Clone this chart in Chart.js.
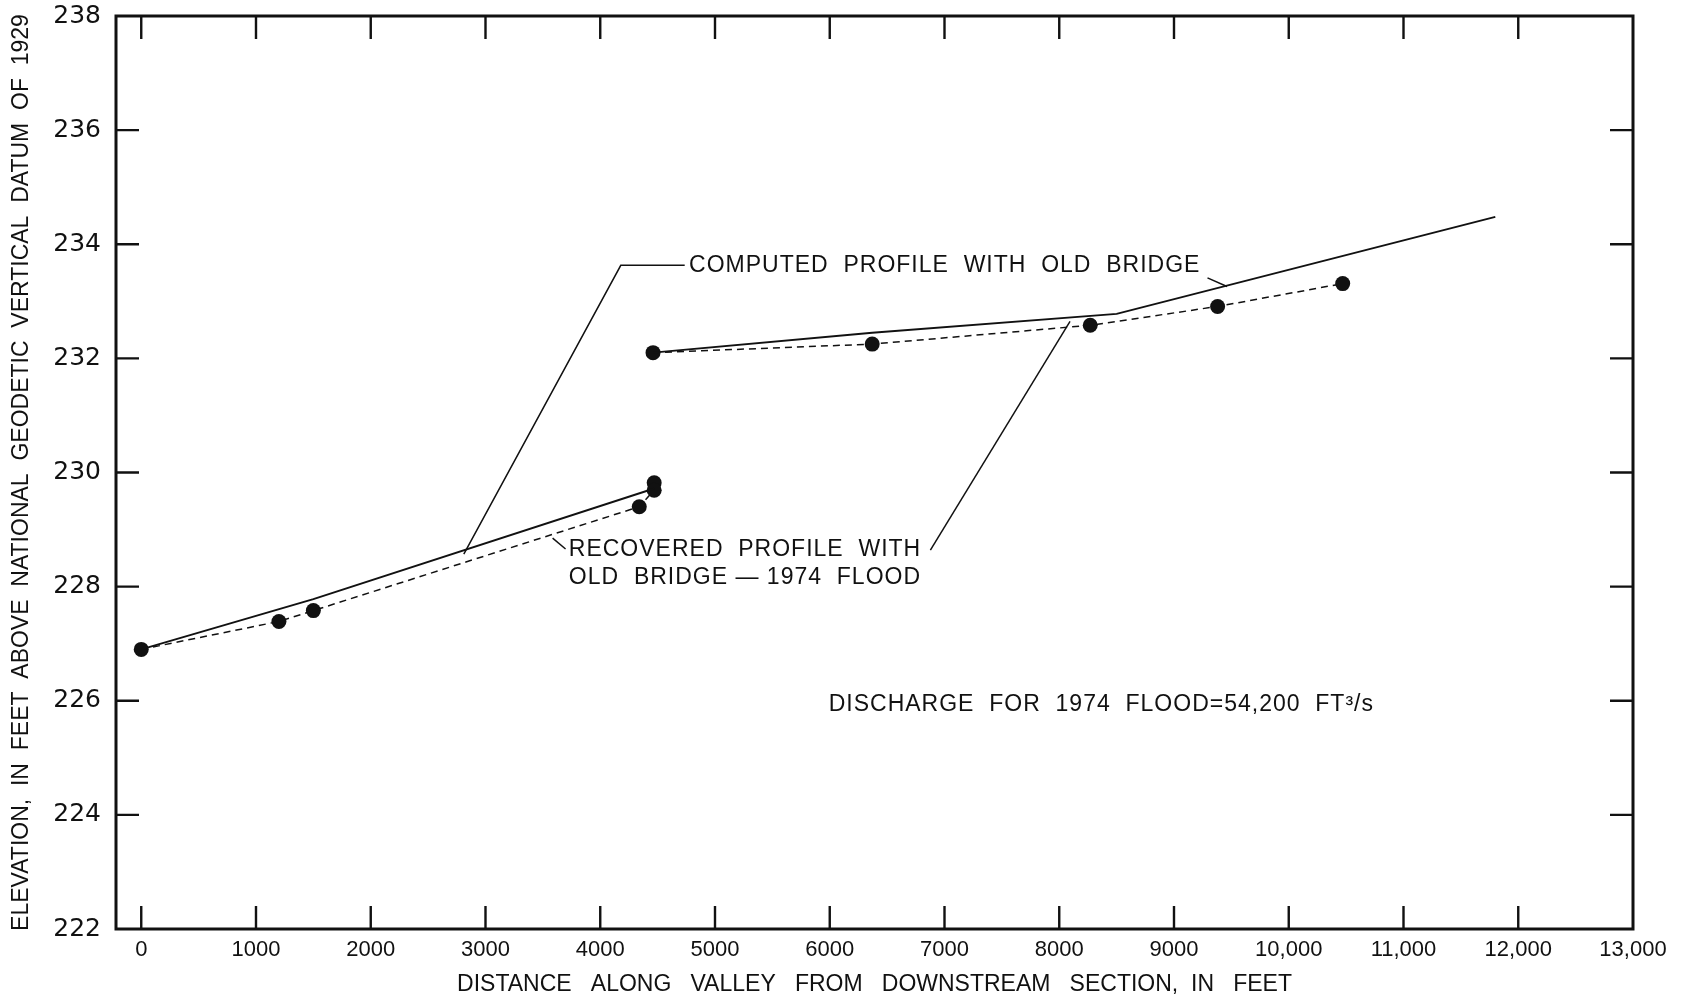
<!DOCTYPE html>
<html>
<head>
<meta charset="utf-8">
<script src="https://cdn.jsdelivr.net/npm/chart.js@4"></script>
<style>
  html, body { margin: 0; padding: 0; background: #fff; }
  #wrap { width: 1698px; height: 1002px; position: relative; }
</style>
</head>
<body>
<div id="wrap"><canvas id="chart"></canvas></div>
<script>
'use strict';

// Water-surface profiles, 1974 flood — distance (ft) vs elevation (ft NGVD 1929)

const X_TICKS = [0, 1000, 2000, 3000, 4000, 5000, 6000, 7000, 8000, 9000, 10000, 11000, 12000, 13000];
const X_LABELS = ['0', '1000', '2000', '3000', '4000', '5000', '6000', '7000', '8000', '9000', '10,000', '11,000', '12,000', '13,000'];
const Y_TICKS = [222, 224, 226, 228, 230, 232, 234, 236, 238];

// computed profile with old bridge (solid), two reaches
const COMPUTED_LOW_X = [0, 1500, 4470];
const COMPUTED_LOW_Y = [226.9, 227.78, 229.72];
const COMPUTED_UP_X = [4460, 6370, 8500, 11800];
const COMPUTED_UP_Y = [232.1, 232.45, 232.78, 234.48];

// recovered profile (high-water marks), dashed
const RECOVERED_LOW_X = [0, 1200, 1500, 4340, 4470];
const RECOVERED_LOW_Y = [226.9, 227.39, 227.58, 229.4, 229.69];
const RECOVERED_UP_X = [4460, 6370, 8270, 9380, 10470];
const RECOVERED_UP_Y = [232.1, 232.25, 232.58, 232.91, 233.31];
const EXTRA_MARK_X = [4470];
const EXTRA_MARK_Y = [229.82];

// leader lines for the labels (data coordinates)
const LEADER_COMPUTED_X = [2811, 4179, 4736];
const LEADER_COMPUTED_Y = [228.57, 233.63, 233.63];
const LEADER_COMPUTED_END_X = [9292, 9462];
const LEADER_COMPUTED_END_Y = [233.41, 233.26];
const LEADER_RECOVERED_X = [6877, 8094];
const LEADER_RECOVERED_Y = [228.64, 232.65];
const LEADER_RECOVERED_START_X = [3585, 3698];
const LEADER_RECOVERED_START_Y = [228.85, 228.66];

const NOTES = [
  { x: 4774, y: 233.62, text: 'COMPUTED  PROFILE  WITH  OLD  BRIDGE' },
  { x: 3726, y: 228.64, text: 'RECOVERED  PROFILE  WITH' },
  { x: 3726, y: 228.15, text: 'OLD  BRIDGE — 1974  FLOOD' },
  { x: 5991, y: 225.93, text: 'DISCHARGE  FOR  1974  FLOOD=54,200  FT³/s' },
];

const FONT = '"Liberation Sans", Arial, sans-serif';
const INK = '#111';

function pts(xs, ys) {
  return xs.map((x, i) => ({ x, y: ys[i] }));
}

function solid(xs, ys, width) {
  return {
    data: pts(xs, ys), showLine: true, borderColor: INK, borderWidth: width || 1.9,
    pointRadius: 0, fill: false, tension: 0,
  };
}

function dashed(xs, ys) {
  return {
    data: pts(xs, ys), showLine: true, borderColor: INK, borderWidth: 1.5,
    borderDash: [7, 5], pointRadius: 7.5, pointBackgroundColor: INK,
    pointBorderColor: INK, pointBorderWidth: 0, fill: false, tension: 0,
  };
}

// frame with inward ticks on all four sides, plus the notes
const framePlugin = {
  id: 'frame',
  afterDatasetsDraw(chart) {
    const { ctx, chartArea: a, scales } = chart;
    const xs = scales.x, ys = scales.y;
    ctx.save();
    ctx.strokeStyle = INK;
    ctx.lineWidth = 3;
    ctx.strokeRect(a.left, a.top, a.right - a.left, a.bottom - a.top);
    ctx.lineWidth = 2.4;
    const tl = 23;
    X_TICKS.forEach(v => {
      const px = xs.getPixelForValue(v);
      if (px >= a.right - 1) return;
      ctx.beginPath();
      ctx.moveTo(px, a.bottom); ctx.lineTo(px, a.bottom - tl);
      ctx.moveTo(px, a.top); ctx.lineTo(px, a.top + tl);
      ctx.stroke();
    });
    Y_TICKS.forEach(v => {
      const py = ys.getPixelForValue(v);
      if (py <= a.top + 1 || py >= a.bottom - 1) return;
      ctx.beginPath();
      ctx.moveTo(a.left, py); ctx.lineTo(a.left + tl, py);
      ctx.moveTo(a.right, py); ctx.lineTo(a.right - tl, py);
      ctx.stroke();
    });

    ctx.fillStyle = INK;
    ctx.font = '23px ' + FONT;
    ctx.textAlign = 'left';
    ctx.textBaseline = 'middle';
    ctx.letterSpacing = '1px';
    NOTES.forEach(n => {
      ctx.fillText(n.text, xs.getPixelForValue(n.x), ys.getPixelForValue(n.y));
    });
    ctx.restore();
  },
};

const ctx = document.getElementById('chart').getContext('2d');
new Chart(ctx, {
  type: 'scatter',
  data: {
    datasets: [
      solid(COMPUTED_LOW_X, COMPUTED_LOW_Y),
      solid(COMPUTED_UP_X, COMPUTED_UP_Y),
      dashed(RECOVERED_LOW_X, RECOVERED_LOW_Y),
      dashed(RECOVERED_UP_X, RECOVERED_UP_Y),
      { data: pts(EXTRA_MARK_X, EXTRA_MARK_Y), showLine: false, pointRadius: 7.5,
        pointBackgroundColor: INK, pointBorderWidth: 0 },
      solid(LEADER_COMPUTED_X, LEADER_COMPUTED_Y, 1.5),
      solid(LEADER_COMPUTED_END_X, LEADER_COMPUTED_END_Y, 1.5),
      solid(LEADER_RECOVERED_X, LEADER_RECOVERED_Y, 1.5),
      solid(LEADER_RECOVERED_START_X, LEADER_RECOVERED_START_Y, 1.5),
    ],
  },
  options: {
    responsive: true,
    maintainAspectRatio: false,
    animation: false,
    layout: { padding: { left: 0, top: 16, right: 65, bottom: 0 } },
    plugins: { legend: { display: false }, tooltip: { enabled: false } },
    scales: {
      x: {
        type: 'linear',
        min: -220,
        max: 13000,
        afterBuildTicks: (s) => { s.ticks = X_TICKS.map(v => ({ value: v })); },
        afterFit: (s) => { s.height = 73; s.paddingLeft = 0; s.paddingRight = 0; },
        grid: { display: false, drawTicks: false },
        border: { display: false },
        ticks: {
          color: INK, padding: 8, maxRotation: 0, autoSkip: false,
          font: { family: FONT, size: 22 },
          callback: (v) => { const i = X_TICKS.indexOf(v); return i >= 0 ? X_LABELS[i] : ''; },
        },
        title: {
          display: true, color: INK,
          text: 'DISTANCE   ALONG   VALLEY   FROM   DOWNSTREAM   SECTION,  IN   FEET',
          font: { family: FONT, size: 23 }, padding: { top: 0, bottom: 4 },
        },
      },
      y: {
        type: 'linear',
        min: 222,
        max: 238,
        afterBuildTicks: (s) => { s.ticks = Y_TICKS.map(v => ({ value: v })); },
        afterFit: (s) => { s.width = 116; s.paddingTop = 0; s.paddingBottom = 0; },
        grid: { display: false, drawTicks: false },
        border: { display: false },
        ticks: {
          color: INK, padding: 15, autoSkip: false,
          font: { family: '"DejaVu Sans", sans-serif', size: 25 },
        },
        title: {
          display: true, color: INK,
          text: 'ELEVATION,  IN  FEET  ABOVE  NATIONAL  GEODETIC  VERTICAL  DATUM  OF  1929',
          font: { family: FONT, size: 23 }, padding: { top: 8, bottom: 0 },
        },
      },
    },
  },
  plugins: [framePlugin],
});
</script>
</body>
</html>
